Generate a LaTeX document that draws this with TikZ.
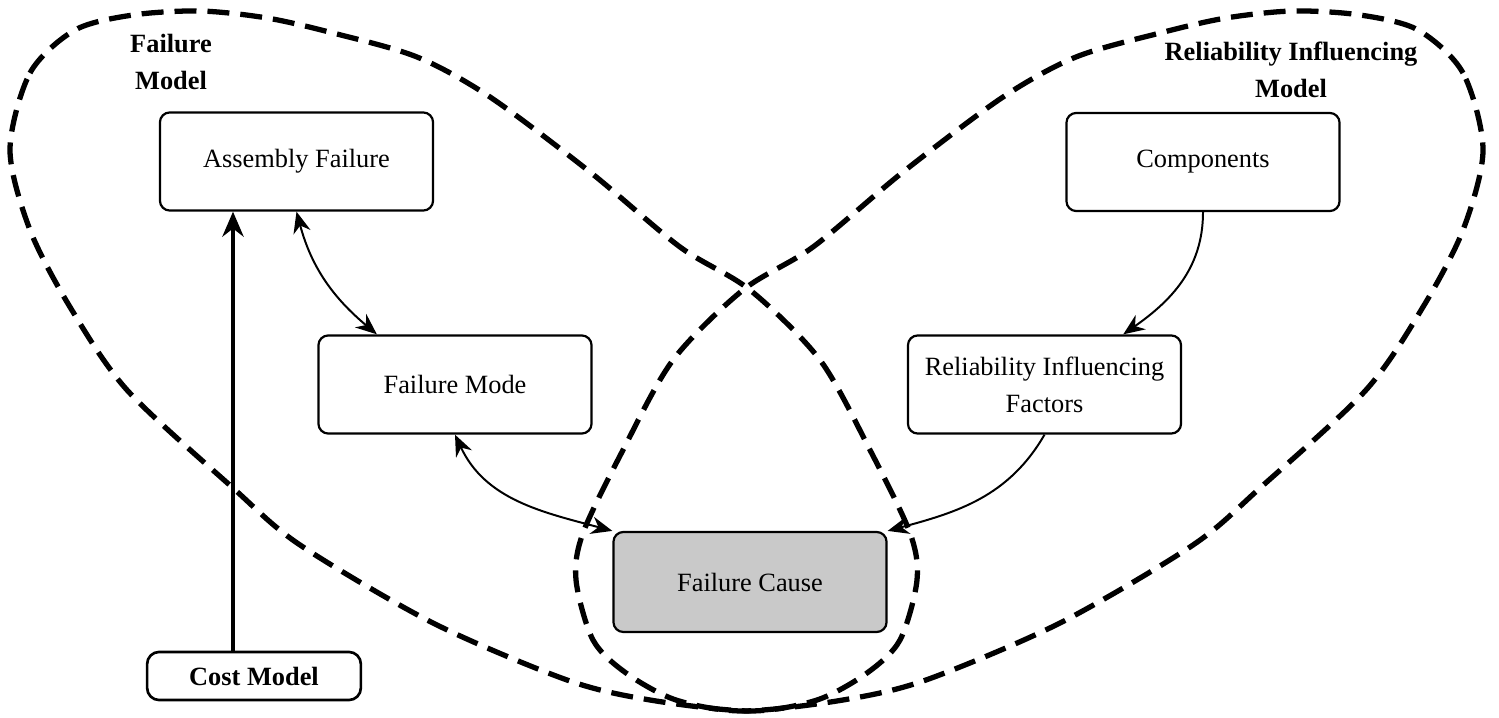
\documentclass[tikz,border=0pt]{standalone}
\usepackage{fontspec}
\setmainfont{Liberation Serif}
\usetikzlibrary{arrows.meta,positioning}
\newcommand{\txtsz}{\fontsize{12}{16.8}\selectfont}
\tikzset{
  box/.style={draw,line width=1pt,rounded corners=4.5pt,minimum width=4.37cm,
    minimum height=1.57cm,inner sep=2pt,align=center,font=\txtsz},
  tag/.style={font=\txtsz\bfseries,align=center},
  zone/.style={dash pattern=on 10pt off 5pt,line width=2.4pt},
  lobe/.pic={\draw[zone] plot[smooth cycle] coordinates {
    (0.10,5.67) (0.30,6.44) (0.75,6.87) (1.33,7.02) (2.00,7.06) (2.67,6.99)
    (3.33,6.84) (4.17,6.60) (4.90,6.20) (5.90,5.45) (6.80,4.70) (7.50,4.27)
    (8.20,3.57) (8.70,2.67) (9.10,1.84) (9.17,1.37) (9.00,0.77) (8.67,0.44)
    (8.17,0.17) (7.50,0.06) (6.50,0.17) (5.67,0.37) (4.33,0.94) (3.00,1.72)
    (2.33,2.29) (1.27,3.27) (0.70,4.10) (0.30,4.87)};}
}

\begin{document}
\begin{tikzpicture}[x=1.6cm,y=1.6cm,
  cause/.style={box,fill=black!21},
  small/.style={box,minimum width=3.42cm,minimum height=0.77cm,
    rounded corners=5.5pt,line width=1.2pt,font=\txtsz\bfseries},
  flow/.style={-{Stealth[length=3.4mm,width=2.8mm]},line width=0.9pt},
  dbl/.style={{Stealth[length=3.4mm,width=2.8mm]}-{Stealth[length=3.4mm,width=2.8mm]},
    line width=0.9pt},
  heavy/.style={-{Stealth[length=4mm,width=3.4mm]},line width=1.8pt}]
\useasboundingbox (0,0) rectangle (14.99,7.17);
\pic {lobe};
\pic[xscale=-1] at (14.93,0) {lobe};
\node[box] (AF) at (2.965,5.555) {Assembly Failure};
\node[box] (CO) at (12.03,5.55) {Components};
\node[box] (FM) at (4.55,3.325) {Failure Mode};
\node[box] (RIF) at (10.445,3.325) {Reliability Influencing\\Factors};
\node[cause,minimum height=1.6cm] (FC) at (7.50,1.35) {Failure Cause};
\node[small] (CM) at (2.54,0.41) {Cost Model};
\node[tag] (FML) at (1.71,6.55) {Failure\\Model};
\node[tag] (RIML) at (12.91,6.47) {Reliability Influencing\\Model};
\coordinate (CMtop) at ([xshift=-3.36mm]CM.north);
\draw[heavy] (CMtop) -- (CMtop |- AF.south);
\draw[dbl] (AF.south) to[out=-75,in=140] ([xshift=-12.5mm]FM.north);
\draw[dbl] (FM.south) to[out=-65,in=165] (FC.north west);
\draw[flow] (CO.south) to[out=-90,in=35] ([xshift=12.6mm]RIF.north);
\draw[flow] (RIF.south) to[out=-120,in=15] (FC.north east);
\end{tikzpicture}
\end{document}
